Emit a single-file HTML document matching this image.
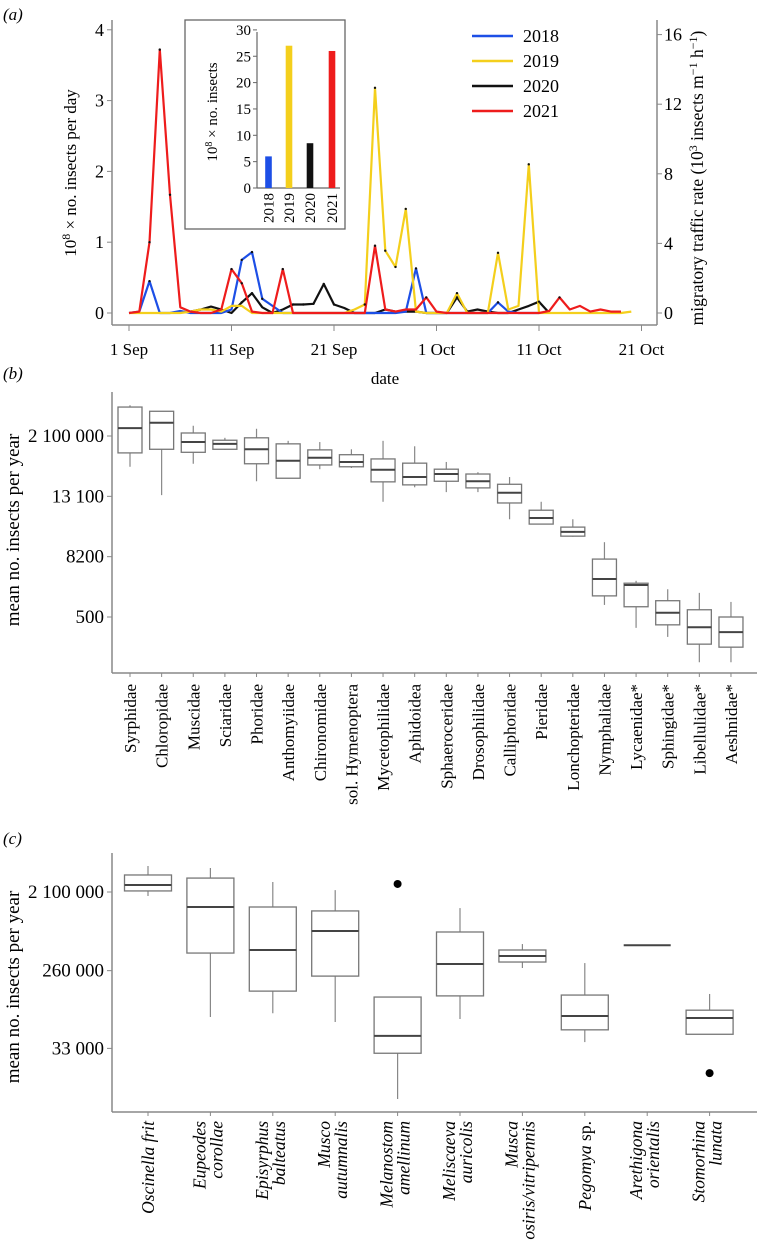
<!DOCTYPE html>
<html><head><meta charset="utf-8"><style>
html,body{margin:0;padding:0;background:#fff;}
svg{display:block;font-family:"Liberation Serif",serif;}
</style></head><body>
<svg id="fig" width="759" height="1240" viewBox="0 0 759 1240" xmlns="http://www.w3.org/2000/svg">
<g id="pa"></g>
<g id="pb"></g>
<g id="pc"></g>
</svg>
<script>
// ---------- Panel A data ----------
const dayLabels = ["1 Sep","11 Sep","21 Sep","1 Oct","11 Oct","21 Oct"];
const dayTicks = [0,10,20,30,40,50];
const leftTicks = [0,1,2,3,4];
const rightTicks = [0,4,8,12,16];
const years = ["2018","2019","2020","2021"];
const s2018 = [0,0.02,0.45,0,0,0.03,0,0,0,0,0.05,0.75,0.86,0.2,0.1,0,0,0,0,0,0,0,0,0,0,0,0,0.02,0.63,0,0,0,0,0,0,0,0.15,0.02,0,0,0];
const s2019 = [0,0,0,0,0,0,0.02,0.05,0.05,0.02,0.1,0.1,0,0,0,0,0,0,0,0,0,0,0.05,0.12,3.18,0.88,0.65,1.47,0.02,0,0,0,0.28,0,0,0,0.85,0.05,0.1,2.1,0,0,0,0,0,0,0,0,0,0.02];
const s2020 = [null,null,null,null,null,null,0.02,0.05,0.09,0.05,0,0.15,0.28,0.08,0,0.05,0.12,0.12,0.13,0.41,0.12,0.07,0,0,0,0.05,0.02,0.02,0.02,0,0,0,0.22,0.02,0.05,0.02,0,0,0.05,0.1,0.16,0];
const s2021 = [0,0.02,1.0,3.72,1.67,0.08,0.02,0,0,0.05,0.62,0.42,0.02,0,0,0.62,0,0,0,0,0,0,0,0,0.95,0.05,0.02,0.05,0.05,0.22,0.02,0,0,0,0,0,0,0,0,0,0,0.03,0.22,0.05,0.1,0.02,0.05,0.02,0.02];
const insetTotals = [6,27,8.5,26];
const insetTicks = [0,5,10,15,20,25,30];
const yearColors = ["#1d4fe6","#f4cf1c","#111111","#ee1c1c"];

// ---------- Panel B data (in axis tick units) ----------
const famNames = ["Syrphidae","Chloropidae","Muscidae","Sciaridae","Phoridae","Anthomyiidae","Chironomidae","sol. Hymenoptera","Mycetophilidae","Aphidoidea","Sphaeroceridae","Drosophilidae","Calliphoridae","Pieridae","Lonchopteridae","Nymphalidae","Lycaenidae*","Sphingidae*","Libellulidae*","Aeshnidae*"];
const famWhiskerHigh = [3.51,3.41,3.17,2.97,3.12,2.92,2.90,2.78,2.92,2.83,2.57,2.40,2.32,1.91,1.62,1.24,0.60,0.46,0.40,0.25];
const famQ3 = [3.48,3.41,3.05,2.93,2.97,2.87,2.77,2.69,2.62,2.55,2.45,2.37,2.20,1.77,1.49,0.96,0.56,0.27,0.12,0.00];
const famMedian = [3.13,3.22,2.90,2.87,2.78,2.59,2.64,2.57,2.44,2.32,2.37,2.25,2.06,1.64,1.41,0.63,0.53,0.07,-0.17,-0.25];
const famQ1 = [2.72,2.78,2.73,2.78,2.54,2.30,2.52,2.49,2.24,2.19,2.25,2.14,1.89,1.54,1.34,0.35,0.17,-0.13,-0.45,-0.50];
const famWhiskerLow = [2.49,2.02,2.54,2.77,2.25,2.30,2.45,2.47,1.91,2.15,2.07,2.07,1.62,1.54,1.33,0.20,-0.18,-0.33,-0.75,-0.75];
const famTickLabels = ["500","8200","13 100","2 100 000"];

// ---------- Panel C data (insects per year) ----------
const spLine1 = ["Oscinella frit","Eupeodes","Episyrphus","Musco","Melanostom","Meliscaeva","Musca","Pegomya","Arethigona","Stomorhina"];
const spLine2 = ["","corollae","balteatus","autumnalis","amellinum","auricolis","osiris/vitripennis","","orientalis","lunata"];
const spWhiskerHigh = [4.19e6,3.97e6,2.74e6,2.21e6,1.29e5,1.37e6,5.27e5,3.18e5,5.1e5,1.4e5];
const spQ3 = [3.3e6,3.04e6,1.41e6,1.27e6,1.29e5,7.26e5,4.5e5,1.36e5,5.1e5,9.1e4];
const spMedian = [2.53e6,1.41e6,4.5e5,7.45e5,4.6e4,3.1e5,3.84e5,7.8e4,5.1e5,7.4e4];
const spQ1 = [2.16e6,4.15e5,1.51e5,2.25e5,2.9e4,1.33e5,3.27e5,5.4e4,5.1e5,4.8e4];
const spWhiskerLow = [1.89e6,7.6e4,8.4e4,6.65e4,8.6e3,7.2e4,2.79e5,3.9e4,5.1e5,4.8e4];
const spOutlierIdx = [4,9];
const spOutlierVal = [2.6e6,1.71e4];
const spTicks = [33000,260000,2100000];
const spTickLabels = ["33 000","260 000","2 100 000"];

const NS="http://www.w3.org/2000/svg";
function mk(parent,tag,attrs,text){const e=document.createElementNS(NS,tag);for(const k in attrs)e.setAttribute(k,attrs[k]);if(text!==undefined)e.textContent=text;parent.appendChild(e);return e;}

// ===== Panel A =====
const pa=document.getElementById('pa');
const ax=d=>129+d*10.25;
const ayL=v=>313-v*70.8;
const ayR=v=>313-v*17.4;
let t;
t=mk(pa,'text',{x:3,y:20,'font-size':17,'font-style':'italic'},'(a)');

let l=mk(pa,'line',{x1:112,y1:20,x2:112,y2:325,stroke:'#888','stroke-width':1.5});

l=mk(pa,'line',{x1:657,y1:20,x2:657,y2:325,stroke:'#888','stroke-width':1.5});

l=mk(pa,'line',{x1:112,y1:325,x2:657,y2:325,stroke:'#888','stroke-width':1.5});

leftTicks.forEach(v=>{
  mk(pa,'line',{x1:107,y1:ayL(v),x2:112,y2:ayL(v),stroke:'#888'});
  const tx=mk(pa,'text',{x:104,y:ayL(v)+6,'font-size':18,'text-anchor':'end'},String(v));
  
  
});
rightTicks.forEach(v=>{
  mk(pa,'line',{x1:657,y1:ayR(v),x2:662,y2:ayR(v),stroke:'#888'});
  const tx=mk(pa,'text',{x:664,y:ayR(v)+6,'font-size':18},String(v));
  
  
});
dayTicks.forEach((d,i)=>{
  mk(pa,'line',{x1:ax(d),y1:325,x2:ax(d),y2:331,stroke:'#888'});
  const tx=mk(pa,'text',{x:ax(d),y:355,'font-size':17,'text-anchor':'middle'},dayLabels[i]);
  
  
});
t=mk(pa,'text',{x:385,y:384,'font-size':17,'text-anchor':'middle'},'date');

t=mk(pa,'text',{transform:'translate(76,173) rotate(-90)','font-size':17,'text-anchor':'middle'});

t.innerHTML='10<tspan dy="-6" font-size="12">8</tspan><tspan dy="6"> × no. insects per day</tspan>';
t=mk(pa,'text',{transform:'translate(703,178) rotate(-90)','font-size':17.5,'text-anchor':'middle'});

t.innerHTML='migratory traffic rate (10<tspan dy="-6" font-size="12">3</tspan><tspan dy="6"> insects m</tspan><tspan dy="-6" font-size="12">−1</tspan><tspan dy="6"> h</tspan><tspan dy="-6" font-size="12">−1</tspan><tspan dy="6">)</tspan>';
const series=[s2018,s2019,s2020,s2021];
const drawOrder=[2,0,1,3];
drawOrder.forEach(si=>{
  const s=series[si];let dstr='';let pen=false;
  s.forEach((v,d)=>{if(v===null){pen=false;return;}dstr+=(pen?'L':'M')+ax(d).toFixed(1)+','+ayL(v).toFixed(1)+' ';pen=true;});
  const p=mk(pa,'path',{d:dstr,fill:'none',stroke:yearColors[si],'stroke-width':2.2,'stroke-linejoin':'round'});
  
  
});
series.forEach(s=>s.forEach((v,d)=>{if(v!==null&&v>0.1){mk(pa,'circle',{cx:ax(d),cy:ayL(v),r:1.2,fill:'#111'});}}));
// legend
years.forEach((y,i)=>{
  const g=mk(pa,'g',{});
  
  
  mk(g,'line',{x1:472,y1:36+i*25,x2:513,y2:36+i*25,stroke:yearColors[i],'stroke-width':2.5});
  mk(g,'text',{x:523,y:42+i*25,'font-size':18},y);
});
// inset
const ins=mk(pa,'g',{});


mk(ins,'rect',{x:185,y:20,width:160,height:209,fill:'#fff',stroke:'#666','stroke-width':1.3});
const iy=v=>188-v*5.27;
mk(ins,'line',{x1:257,y1:32,x2:257,y2:188,stroke:'#666','stroke-width':1.2});
mk(ins,'line',{x1:257,y1:188,x2:340,y2:188,stroke:'#666','stroke-width':1.2});
insetTicks.forEach(v=>{
  mk(ins,'line',{x1:253,y1:iy(v),x2:257,y2:iy(v),stroke:'#666'});
  const tx=mk(ins,'text',{x:251,y:iy(v)+5,'font-size':15,'text-anchor':'end'},String(v));
  
  
});
const bx=[268.5,289,310,332];
insetTotals.forEach((v,i)=>{
  const r=mk(ins,'rect',{x:bx[i]-3.3,y:iy(v),width:6.6,height:188-iy(v),fill:yearColors[i]});
  
  
  const tx=mk(ins,'text',{transform:'translate('+(bx[i]+5)+',193) rotate(-90)','font-size':15,'text-anchor':'end'},years[i]);
  
  
});
t=mk(ins,'text',{transform:'translate(217,112) rotate(-90)','font-size':15,'text-anchor':'middle'});

t.innerHTML='10<tspan dy="-5" font-size="10">8</tspan><tspan dy="5"> × no. insects</tspan>';

// ===== Panel B =====
const pb=document.getElementById('pb');
const bxF=i=>130+i*31.63;
const byF=u=>617-u*60.33;
t=mk(pb,'text',{x:3,y:379,'font-size':17,'font-style':'italic'},'(b)');

l=mk(pb,'line',{x1:112,y1:392,x2:112,y2:673,stroke:'#888','stroke-width':1.5});

l=mk(pb,'line',{x1:112,y1:673,x2:757,y2:673,stroke:'#888','stroke-width':1.5});

famTickLabels.forEach((lab,i)=>{
  mk(pb,'line',{x1:107,y1:byF(i),x2:112,y2:byF(i),stroke:'#888'});
  const tx=mk(pb,'text',{x:104,y:byF(i)+6,'font-size':19,'text-anchor':'end'},lab);
  
  
});
t=mk(pb,'text',{transform:'translate(19,530) rotate(-90)','font-size':19,'text-anchor':'middle'},'mean no. insects per year');

famNames.forEach((n,i)=>{
  const x=bxF(i);
  const g=mk(pb,'g',{});
  
  
  mk(g,'line',{x1:x,y1:byF(famWhiskerHigh[i]),x2:x,y2:byF(famWhiskerLow[i]),stroke:'#888','stroke-width':1.2});
  mk(g,'rect',{x:x-12,y:byF(famQ3[i]),width:24,height:Math.max(0.5,byF(famQ1[i])-byF(famQ3[i])),fill:'#fff',stroke:'#777','stroke-width':1.3});
  mk(g,'line',{x1:x-12,y1:byF(famMedian[i]),x2:x+12,y2:byF(famMedian[i]),stroke:'#444','stroke-width':2});
  mk(pb,'line',{x1:x,y1:673,x2:x,y2:677,stroke:'#888'});
  const tx=mk(pb,'text',{transform:'translate('+(x+6)+',684) rotate(-90)','font-size':17,'text-anchor':'end'},n);
  
  
});

// ===== Panel C =====
const pc=document.getElementById('pc');
const cxF=i=>148+i*62.4;
const cyF=v=>892-(Math.log10(v)-Math.log10(2100000))*86.7;
t=mk(pc,'text',{x:3,y:844,'font-size':17,'font-style':'italic'},'(c)');

l=mk(pc,'line',{x1:112,y1:853,x2:112,y2:1112,stroke:'#888','stroke-width':1.5});

l=mk(pc,'line',{x1:112,y1:1112,x2:757,y2:1112,stroke:'#888','stroke-width':1.5});

spTicks.forEach((v,i)=>{
  mk(pc,'line',{x1:107,y1:cyF(v),x2:112,y2:cyF(v),stroke:'#888'});
  const tx=mk(pc,'text',{x:104,y:cyF(v)+6,'font-size':19,'text-anchor':'end'},spTickLabels[i]);
  
  
});
t=mk(pc,'text',{transform:'translate(19,987) rotate(-90)','font-size':19,'text-anchor':'middle'},'mean no. insects per year');

spLine1.forEach((n,i)=>{
  const x=cxF(i);
  const g=mk(pc,'g',{});
  
  
  mk(g,'line',{x1:x,y1:cyF(spWhiskerHigh[i]),x2:x,y2:cyF(spWhiskerLow[i]),stroke:'#888','stroke-width':1.2});
  const h=cyF(spQ1[i])-cyF(spQ3[i]);
  if(h>0.5) mk(g,'rect',{x:x-23.5,y:cyF(spQ3[i]),width:47,height:h,fill:'#fff',stroke:'#777','stroke-width':1.3});
  mk(g,'line',{x1:x-23.5,y1:cyF(spMedian[i]),x2:x+23.5,y2:cyF(spMedian[i]),stroke:'#444','stroke-width':2});
  mk(pc,'line',{x1:x,y1:1112,x2:x,y2:1116,stroke:'#888'});
  if(spLine2[i]===''){
    const tx=mk(pc,'text',{transform:'translate('+(x+6)+',1121) rotate(-90)','font-size':17.5,'font-style':'italic','text-anchor':'end'},n);
    
    
    if(n==='Pegomya'){tx.textContent='';tx.innerHTML='Pegomya<tspan font-style="normal"> sp.</tspan>';}
  } else {
    const tx=mk(pc,'text',{transform:'translate('+(x-5)+',1121) rotate(-90)','font-size':17.5,'font-style':'italic','text-anchor':'end'},n);
    
    
    const tx2=mk(pc,'text',{transform:'translate('+(x+12)+',1121) rotate(-90)','font-size':17.5,'font-style':'italic','text-anchor':'end'},spLine2[i]);
    
    
  }
});
spOutlierIdx.forEach((idx,k)=>{
  const c=mk(pc,'circle',{cx:cxF(idx),cy:cyF(spOutlierVal[k]),r:4,fill:'#000'});
  
  
});
</script>
</body></html>
